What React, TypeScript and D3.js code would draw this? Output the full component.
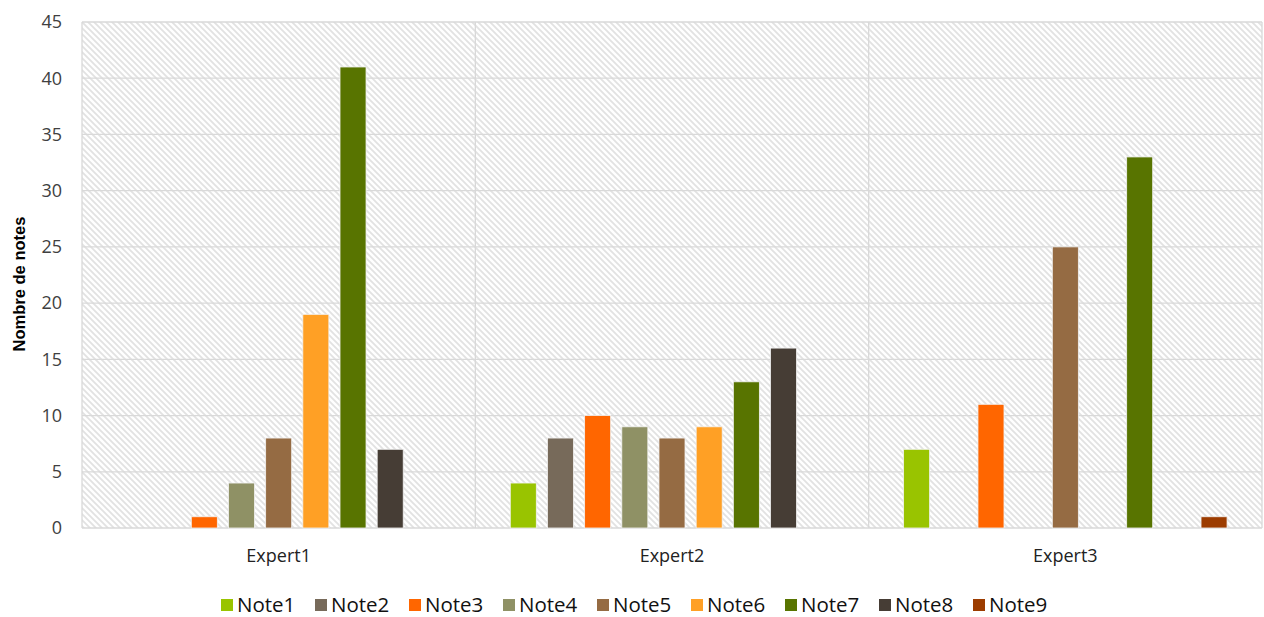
import * as d3 from "d3";
import { useEffect, useRef } from "react";

const experts = ["Expert1", "Expert2", "Expert3"];
const notes = ["Note1", "Note2", "Note3", "Note4", "Note5", "Note6", "Note7", "Note8", "Note9"];
const expert1 = [0, 0, 1, 4, 8, 19, 41, 7, 0];
const expert2 = [4, 8, 10, 9, 8, 9, 13, 16, 0];
const expert3 = [7, 0, 11, 0, 25, 0, 33, 0, 1];
const yTicks = [0, 5, 10, 15, 20, 25, 30, 35, 40, 45];
const colors = ["#99c400", "#776a5a", "#ff6600", "#8f9165", "#956b43", "#ffa025", "#587400", "#463d35", "#9c3c00"];

export default function App() {
  const svgRef = useRef<SVGSVGElement>(null);

  useEffect(() => {
    const width = 1264, height = 617;
    const svg = d3.select(svgRef.current);
    svg.selectAll("*").remove();
    const font = "'Open Sans', sans-serif";

    const left = 82, right = 1262, top = 22, bottom = 528;
    const values = [expert1, expert2, expert3];

    const x0 = d3.scaleBand().domain(experts).range([left, right]).padding(0);
    const x1 = d3.scaleBand().domain(notes).range([0, x0.bandwidth()]).paddingInner(0.3).paddingOuter(0.94);
    const y = d3.scaleLinear().domain([0, 45]).range([bottom, top]);

    // light diagonal hatch behind the plot
    const defs = svg.append("defs");
    const pat = defs.append("pattern")
      .attr("id", "hatch")
      .attr("patternUnits", "userSpaceOnUse")
      .attr("width", 6).attr("height", 6);
    pat.append("rect").attr("width", 6).attr("height", 6).attr("fill", "#fff");
    pat.append("path")
      .attr("d", "M-1,-1 L7,7 M-1,5 L1,7 M5,-1 L7,1")
      .attr("stroke", "#e2e2e2").attr("stroke-width", 1.8);

    svg.append("rect")
      .attr("x", left).attr("y", top)
      .attr("width", right - left).attr("height", bottom - top)
      .attr("fill", "url(#hatch)");

    // horizontal gridlines
    svg.append("g").selectAll("line").data(yTicks).enter().append("line")
      .attr("x1", left).attr("x2", right)
      .attr("y1", d => y(d)).attr("y2", d => y(d))
      .attr("stroke", "#d9d9d9").attr("stroke-width", 1.3);

    // vertical gridlines at category borders
    const borders = experts.map(e => x0(e)).concat([right]);
    svg.append("g").selectAll("line").data(borders).enter().append("line")
      .attr("x1", d => d).attr("x2", d => d)
      .attr("y1", top).attr("y2", bottom)
      .attr("stroke", "#d9d9d9").attr("stroke-width", 1.3);

    // bars
    experts.forEach((e, ei) => {
      svg.append("g")
        .attr("transform", `translate(${x0(e)},0)`)
        .selectAll("rect")
        .data(values[ei].map((v, i) => ({ note: notes[i], v, i })).filter(d => d.v > 0))
        .enter().append("rect")
        .attr("x", d => x1(d.note))
        .attr("width", x1.bandwidth())
        .attr("y", d => y(d.v))
        .attr("height", d => y(0) - y(d.v))
        .attr("fill", d => colors[d.i])
        .attr("stroke", "#f2f2f2").attr("stroke-width", 0.8);
    });

    // y tick labels
    svg.append("g").selectAll("text").data(yTicks).enter().append("text")
      .attr("x", 62).attr("y", d => y(d)).attr("dy", "0.35em")
      .attr("text-anchor", "end")
      .attr("font-family", font).attr("font-size", 18).attr("fill", "#404040")
      .text(d => d);

    // y title
    svg.append("text")
      .attr("transform", "translate(25,284) rotate(-90)")
      .attr("text-anchor", "middle")
      .attr("font-family", "'Liberation Sans', Arial, sans-serif")
      .attr("font-size", 16.5).attr("font-weight", "bold").attr("fill", "#000")
      .text("Nombre de notes");

    // category labels
    svg.append("g").selectAll("text").data(experts).enter().append("text")
      .attr("x", d => x0(d) + x0.bandwidth() / 2).attr("y", 562)
      .attr("text-anchor", "middle")
      .attr("font-family", font).attr("font-size", 18).attr("fill", "#222")
      .text(d => d);

    // legend
    const lx = d3.scaleBand().domain(notes).range([221, 1067]);
    const leg = svg.append("g").selectAll("g").data(notes).enter().append("g")
      .attr("transform", d => `translate(${lx(d)},599)`);
    leg.append("rect").attr("width", 12).attr("height", 12).attr("fill", (d, i) => colors[i]);
    leg.append("text").attr("x", 16).attr("y", 6).attr("dy", "0.36em")
      .attr("font-family", font).attr("font-size", 20.5).attr("fill", "#111")
      .text(d => d);

    svg.attr("width", width).attr("height", height);
  }, []);

  return (
    <svg ref={svgRef} width={1264} height={617}
      style={{ position: "absolute", left: 0, top: 0, background: "#fff" }} />
  );
}
